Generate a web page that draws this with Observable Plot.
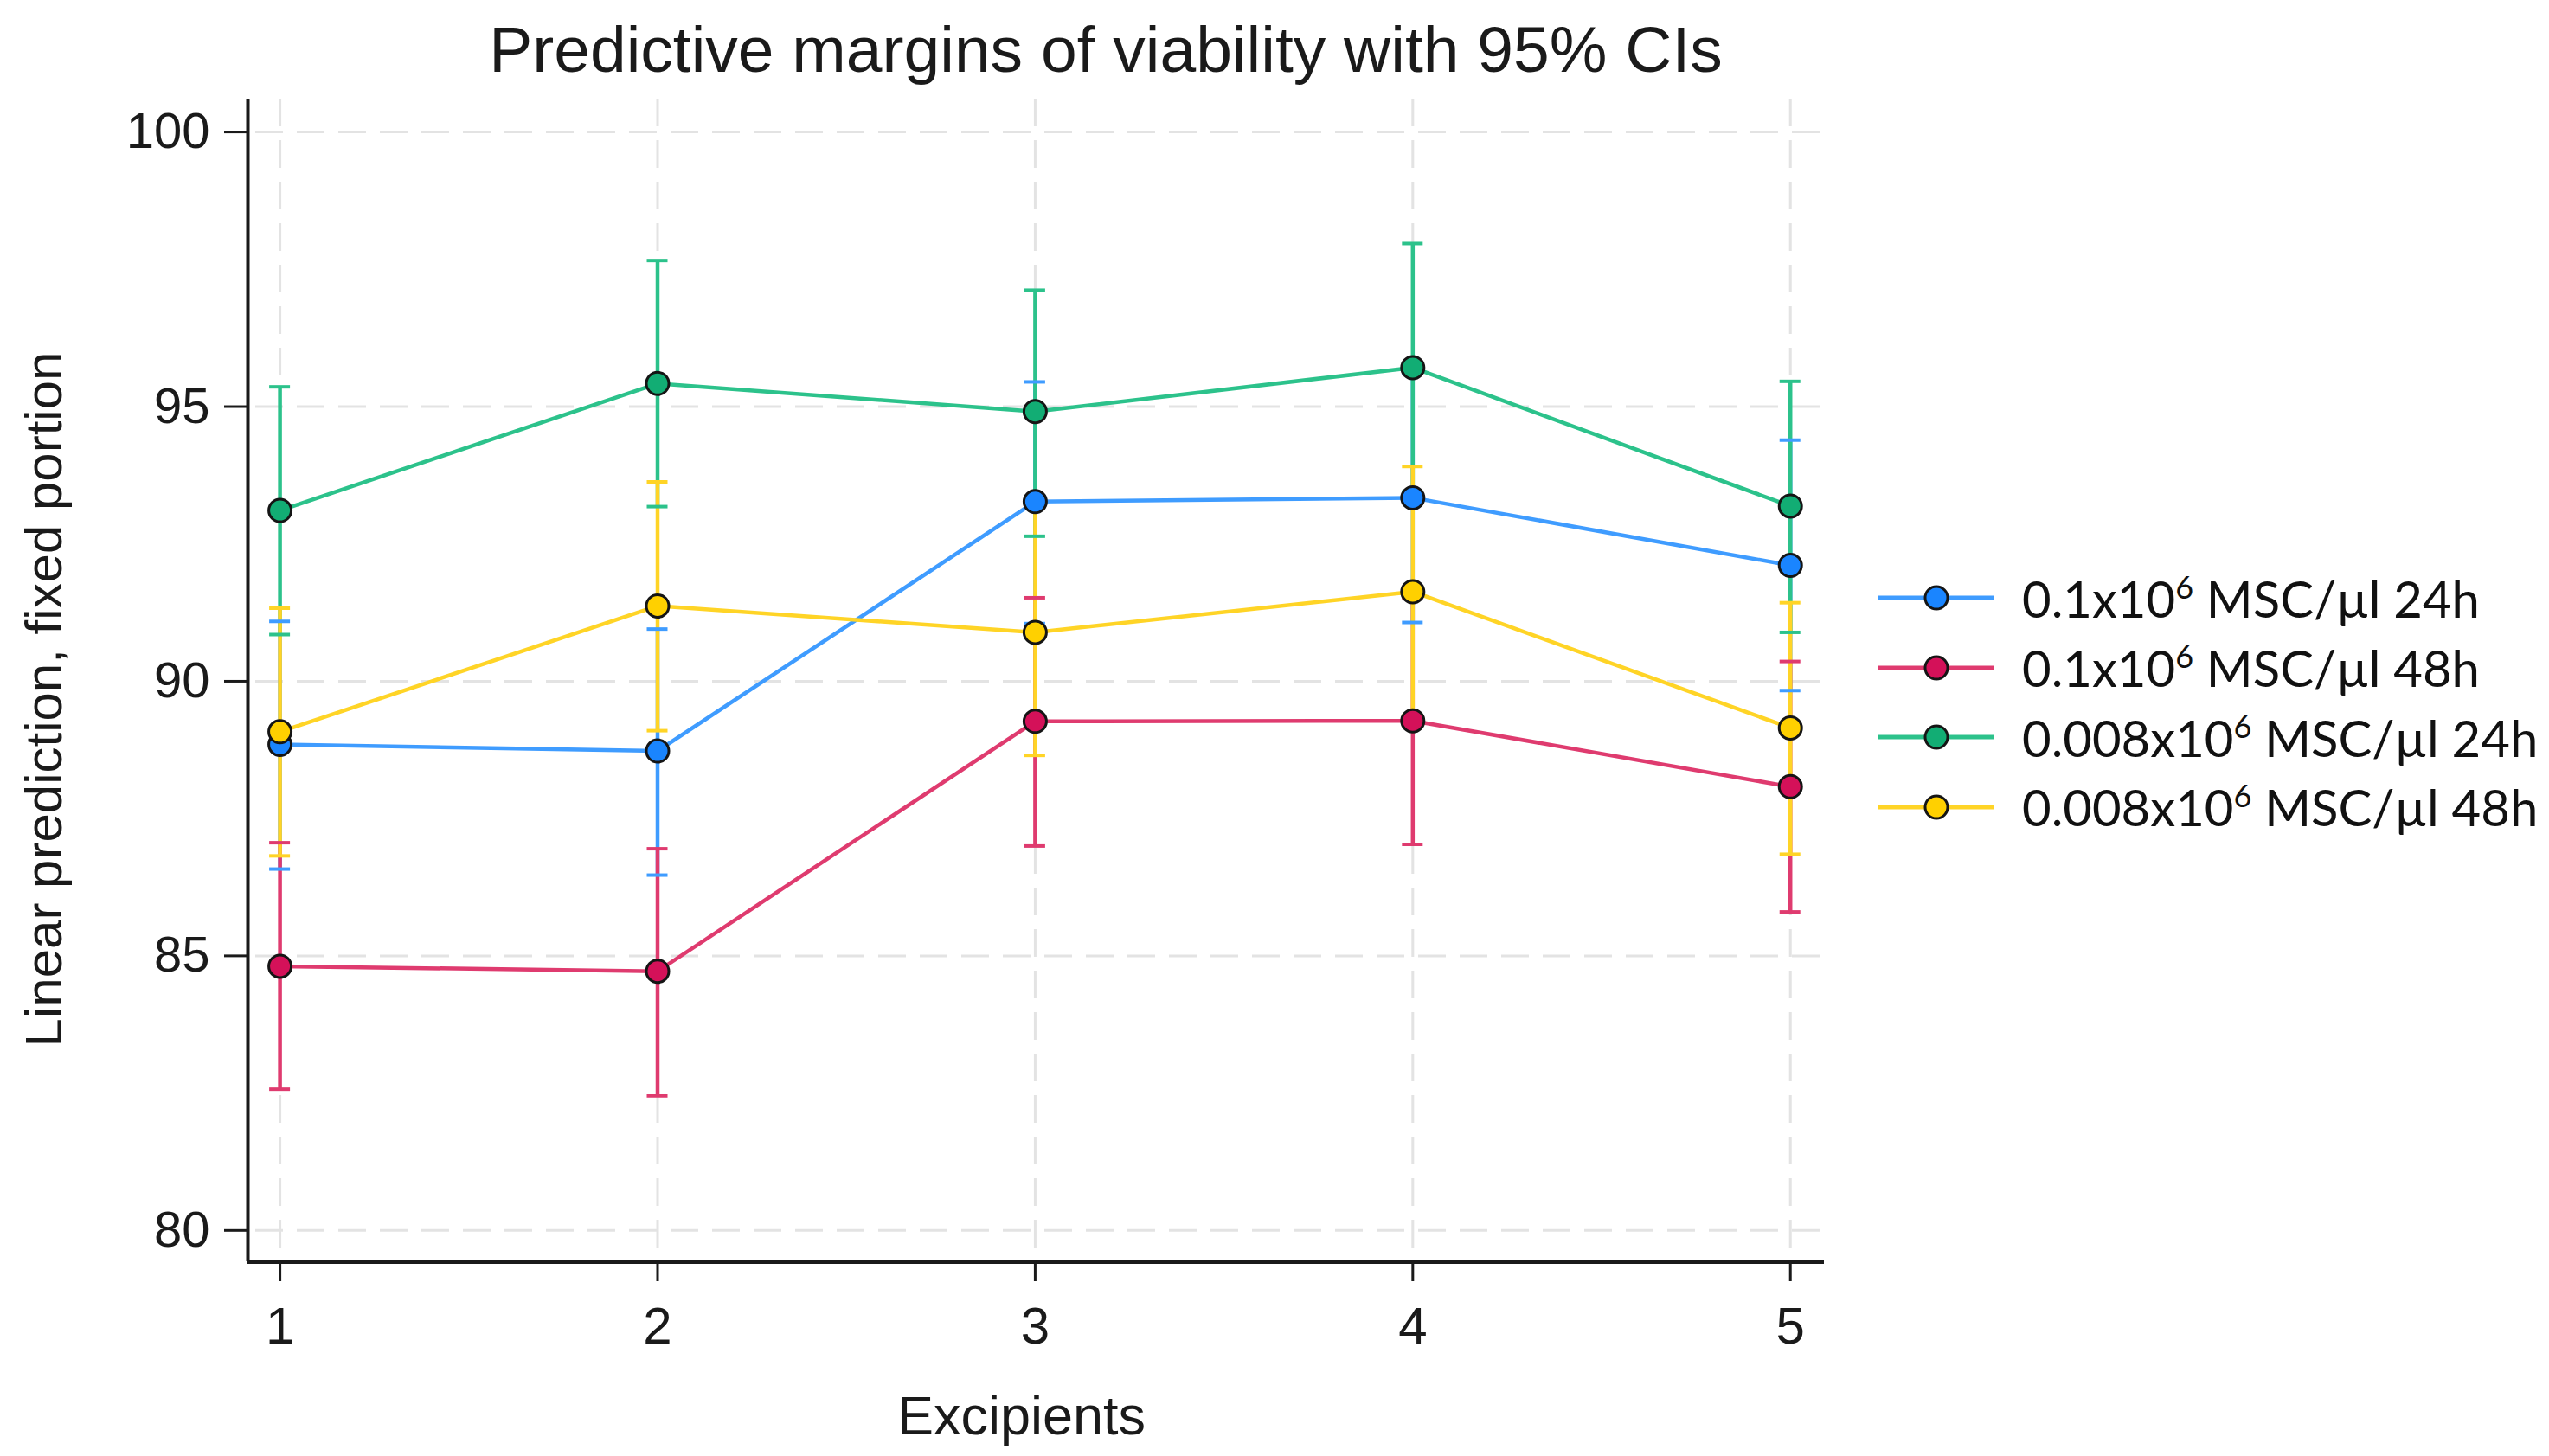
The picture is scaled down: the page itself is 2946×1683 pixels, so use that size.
<!DOCTYPE html>
<html>
<head>
<meta charset="utf-8">
<script src="https://cdn.jsdelivr.net/npm/d3@7"></script>
<script src="https://cdn.jsdelivr.net/npm/@observablehq/plot@0.6"></script>
<style>
  html, body { margin: 0; padding: 0; background: #fff; }
  #page { position: relative; width: 2946px; height: 1683px; overflow: hidden; background: #fff; }
  #title { position: absolute; left: 0; top: 20px; width: 2556px; text-align: center;
           font-family: "Liberation Sans", Arial, sans-serif; font-size: 75px; line-height: 1; color: #1a1a1a; }
  #chart { position: absolute; left: 0; top: 110px; }
  #legend { position: absolute; left: 2160px; top: 651px; font-family: Lato, "Open Sans", sans-serif;
            font-size: 58px; color: #111; }
  .row { display: flex; align-items: center; height: 80.5px; }
  .row svg { flex: none; }
  .row span { margin-left: 32px; white-space: nowrap; }
  .row sup { font-size: 0.62em; vertical-align: 0.62em; line-height: 0; }
</style>
</head>
<body>
<div id="page">
  <div id="title">Predictive margins of viability with 95% CIs</div>
  <div id="chart"></div>
  <div id="legend"></div>
</div>
<script>
// ---- data ----
const excipients = [1, 2, 3, 4, 5];
const yTicks = [80, 85, 90, 95, 100];
const xLabel = "Excipients";
const yLabel = "Linear prediction, fixed portion";

const seriesDose = ["0.1", "0.1", "0.008", "0.008"];
const seriesTime = ["24h", "48h", "24h", "48h"];
const seriesNames = seriesDose.map((d, i) => `${d}x10^6 MSC/µl ${seriesTime[i]}`);

// 0.1x10^6 MSC/µl 24h
const blueMean = [88.85, 88.73, 93.27, 93.34, 92.11];
const blueLow  = [86.58, 86.47, 91.05, 91.07, 89.83];
const blueHigh = [91.09, 90.95, 95.45, 95.60, 94.39];
// 0.1x10^6 MSC/µl 48h
const redMean = [84.81, 84.72, 89.27, 89.28, 88.08];
const redLow  = [82.57, 82.45, 87.00, 87.03, 85.80];
const redHigh = [87.06, 86.95, 91.52, 91.52, 90.36];
// 0.008x10^6 MSC/µl 24h
const greenMean = [93.11, 95.42, 94.91, 95.71, 93.19];
const greenLow  = [90.85, 93.18, 92.64, 93.45, 90.89];
const greenHigh = [95.36, 97.66, 97.12, 97.97, 95.46];
// 0.008x10^6 MSC/µl 48h
const yellowMean = [89.08, 91.37, 90.89, 91.63, 89.15];
const yellowLow  = [86.82, 89.10, 88.65, 89.37, 86.85];
const yellowHigh = [91.33, 93.63, 93.15, 93.91, 91.43];

const means = [blueMean, redMean, greenMean, yellowMean];
const lows = [blueLow, redLow, greenLow, yellowLow];
const highs = [blueHigh, redHigh, greenHigh, yellowHigh];

const lineColors = ["#3f9cff", "#df3b6f", "#2cc28b", "#ffd426"];
const markerColors = ["#1a85ff", "#d41159", "#12ad74", "#ffd000"];

const xDomain = [0.915, 5.09];
const yDomain = [79.43, 100.6];

const rows = [];
seriesNames.forEach((s, i) => {
  excipients.forEach((x, j) => {
    rows.push({series: s, x, y: means[i][j], lo: lows[i][j], hi: highs[i][j]});
  });
});

const grid = {stroke: "#e3e3e3", strokeWidth: 3, strokeDasharray: "32,16"};

const chart = Plot.plot({
  width: 2150,
  height: 1573,
  marginLeft: 286,
  marginRight: 42,
  marginTop: 4,
  marginBottom: 225,
  style: {fontFamily: "'Liberation Sans', Arial, sans-serif", fontSize: "58px", color: "#1a1a1a", background: "transparent"},
  x: {domain: xDomain},
  y: {domain: yDomain},
  color: {domain: seriesNames, range: lineColors},
  marks: [
    Plot.ruleY(yTicks, {...grid, insetLeft: 9}),
    Plot.ruleX(excipients, grid),
    Plot.ruleX(rows, {x: "x", y1: "lo", y2: "hi", stroke: "series", strokeWidth: 4.5}),
    Plot.ruleY(rows, {y: "lo", x1: "x", x2: "x", insetLeft: -12, insetRight: -12, stroke: "series", strokeWidth: 4}),
    Plot.ruleY(rows, {y: "hi", x1: "x", x2: "x", insetLeft: -12, insetRight: -12, stroke: "series", strokeWidth: 4}),
    Plot.line(rows, {x: "x", y: "y", z: "series", stroke: "series", strokeWidth: 4.5}),
    ...seriesNames.map((s, i) => Plot.dot(rows.filter(r => r.series === s),
      {x: "x", y: "y", r: 13, fill: markerColors[i], stroke: "#151515", strokeWidth: 3})),
    Plot.ruleX([xDomain[0]], {stroke: "#1a1a1a", strokeWidth: 4}),
    Plot.ruleY([yDomain[0]], {stroke: "#1a1a1a", strokeWidth: 5}),
    Plot.axisX({ticks: excipients, tickSize: 23, tickPadding: 29, tickFormat: d3.format("d"),
      stroke: "#1a1a1a", strokeWidth: 3, label: null, fontSize: 60}),
    Plot.axisY({ticks: yTicks, tickSize: 27, tickPadding: 17, tickFormat: d3.format("d"),
      stroke: "#1a1a1a", strokeWidth: 3, label: null, fontSize: 58}),
    Plot.text([xLabel], {text: d => d, frameAnchor: "bottom", textAnchor: "middle", lineAnchor: "bottom",
      dx: -17, dy: 199, fontSize: 63, fill: "#1a1a1a"}),
    Plot.text([yLabel], {text: d => d, frameAnchor: "left", textAnchor: "middle", lineAnchor: "middle",
      rotate: -90, dx: -235, dy: 22, fontSize: 60, fill: "#1a1a1a"})
  ]
});
document.getElementById("chart").appendChild(chart);

// legend
const legend = document.getElementById("legend");
seriesNames.forEach((s, i) => {
  const row = document.createElement("div");
  row.className = "row";
  row.innerHTML = `<svg width="145" height="40" viewBox="0 0 145 40">
      <line x1="10" y1="20" x2="145" y2="20" stroke="${lineColors[i]}" stroke-width="5"/>
      <circle cx="78" cy="20" r="13" fill="${markerColors[i]}" stroke="#151515" stroke-width="3"/>
    </svg><span>${seriesDose[i]}x10<sup>6</sup> MSC/µl ${seriesTime[i]}</span>`;
  legend.appendChild(row);
});
</script>
</body>
</html>
